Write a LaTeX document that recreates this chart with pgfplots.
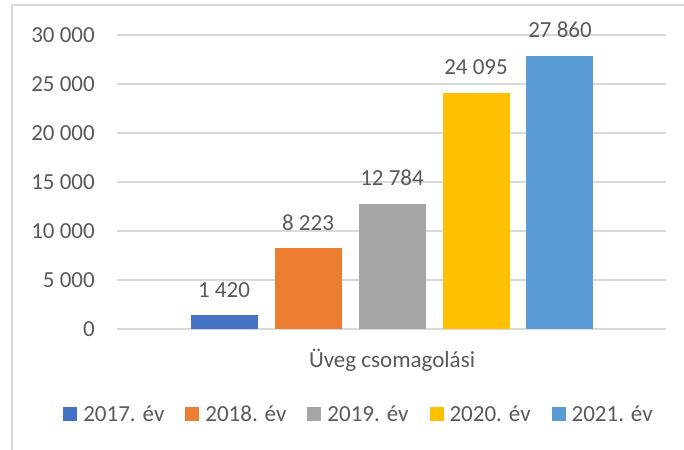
\documentclass[border=0pt]{standalone}
\usepackage{pgfplots}
\pgfplotsset{compat=1.18}
\usepackage{fontspec}
\setmainfont{Carlito}
\definecolor{c1}{HTML}{4472C4}
\definecolor{c2}{HTML}{ED7D31}
\definecolor{c3}{HTML}{A5A5A5}
\definecolor{c4}{HTML}{FFC000}
\definecolor{c5}{HTML}{5B9BD5}
\definecolor{tgray}{HTML}{595959}
\definecolor{ggray}{HTML}{D9D9D9}
\begin{document}
\fontsize{23bp}{28bp}\selectfont
\begin{tikzpicture}
\path[use as bounding box] (-117bp,-121bp) rectangle (567bp,329bp);
\draw[ggray, line width=1.5bp] (-105bp,-121bp) -- (-105bp,324bp) -- (567bp,324bp);
\begin{axis}[
  at={(0,0)}, anchor=south west,
  scale only axis, width=549bp, height=294bp,
  xmin=-3.274, xmax=3.262, ymin=0, ymax=30000,
  clip=false,
  axis line style={draw=none},
  major tick length=0pt,
  ytick={0,5000,...,30000},
  scaled y ticks=false,
  ymajorgrids, grid style={ggray, line width=1.2bp},
  xtick={0}, xticklabels={Üveg csomagolási},
  /pgf/number format/1000 sep={\ },
  /pgf/number format/assume math mode=true,
  yticklabel style={text=tgray, anchor=east, inner sep=0pt, xshift=-22bp},
  xticklabel style={text=tgray, anchor=base, inner sep=0pt, yshift=-38bp},
  nodes near coords,
  nodes near coords style={text=tgray, anchor=base, inner sep=0pt, yshift=18bp},
  legend columns=5,
  legend image code/.code={\fill[#1] (0bp,-7bp) rectangle (14bp,7bp);},
  legend style={at={(0.439,-0.289)}, anchor=center, draw=none, fill=none, inner sep=0pt,
    nodes={inner sep=0pt, text depth=0pt, text=tgray},
    /tikz/every odd column/.style={column sep=6bp},
    /tikz/every even column/.style={column sep=21bp}},
]
\addplot[ybar, bar width=67bp, bar shift=0pt, fill=c1, draw=none] coordinates {(-2,1420)};
\addlegendentry{2017. év}
\addplot[ybar, bar width=67bp, bar shift=0pt, fill=c2, draw=none] coordinates {(-1,8223)};
\addlegendentry{2018. év}
\addplot[ybar, bar width=67bp, bar shift=0pt, fill=c3, draw=none] coordinates {(0,12784)};
\addlegendentry{2019. év}
\addplot[ybar, bar width=67bp, bar shift=0pt, fill=c4, draw=none] coordinates {(1,24095)};
\addlegendentry{2020. év}
\addplot[ybar, bar width=67bp, bar shift=0pt, fill=c5, draw=none] coordinates {(2,27860)};
\addlegendentry{2021. év}
\end{axis}
\end{tikzpicture}
\end{document}
